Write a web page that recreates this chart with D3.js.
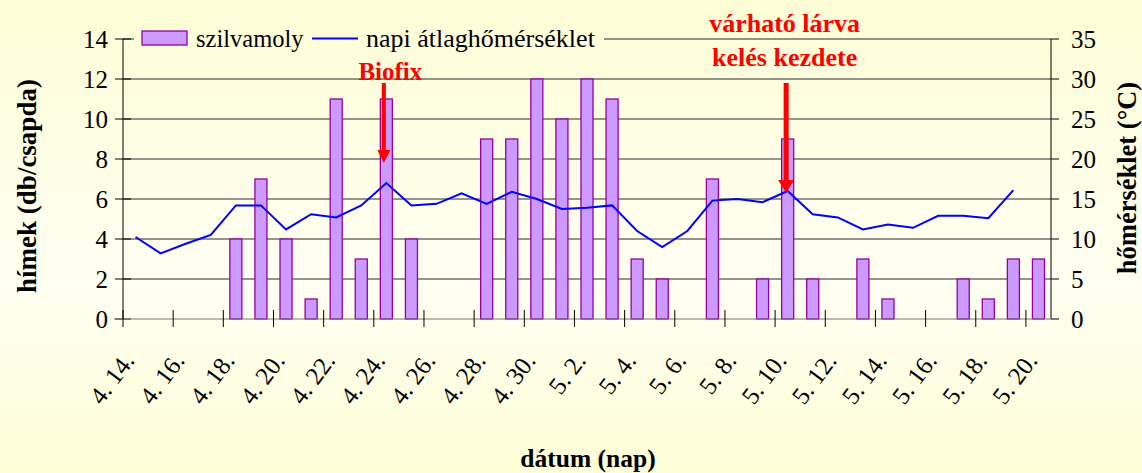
<!DOCTYPE html>
<html>
<head>
<meta charset="utf-8">
<script src="https://cdn.jsdelivr.net/npm/d3@7"></script>
<style>
  body { margin: 0; background: #fefedc; }
  svg { display: block; }
</style>
</head>
<body>
<div id="chart"></div>
<script>
(function() {
  const W = 1142, H = 473;
  const margin = { top: 39, right: 91, bottom: 154, left: 123 };
  const serif = "'Liberation Serif', 'DejaVu Serif', 'Times New Roman', serif";

  // data
  const dates = ["4. 14.", "4. 15.", "4. 16.", "4. 17.", "4. 18.", "4. 19.", "4. 20.", "4. 21.", "4. 22.",
    "4. 23.", "4. 24.", "4. 25.", "4. 26.", "4. 27.", "4. 28.", "4. 29.", "4. 30.", "5. 1.", "5. 2.",
    "5. 3.", "5. 4.", "5. 5.", "5. 6.", "5. 7.", "5. 8.", "5. 9.", "5. 10.", "5. 11.", "5. 12.",
    "5. 13.", "5. 14.", "5. 15.", "5. 16.", "5. 17.", "5. 18.", "5. 19.", "5. 20."];
  const moths = [0, 0, 0, 0, 4, 7, 4, 1, 11, 3, 11, 4, 0, 0, 9, 9, 12, 10, 12, 11, 3, 2, 0, 7, 0, 2, 9, 2, 0,
    3, 1, 0, 0, 2, 1, 3, 3];
  const temps = [10.25, 8.2, 9.4, 10.5, 14.2, 14.2, 11.2, 13.1, 12.7, 14.2, 17.0, 14.2, 14.4, 15.7, 14.4, 15.9,
    15.0, 13.75, 13.9, 14.2, 11.0, 9.0, 11.0, 14.8, 15.0, 14.6, 16.0, 13.1, 12.7, 11.2, 11.8, 11.4, 12.9,
    12.9, 12.6, 16.1, null];
  const leftTicks = [0, 2, 4, 6, 8, 10, 12, 14];
  const rightTicks = [0, 5, 10, 15, 20, 25, 30, 35];
  const labelDates = dates.filter((d, i) => i % 2 === 0);

  const x = d3.scaleBand().domain(dates).range([margin.left, W - margin.right]);
  const yL = d3.scaleLinear().domain([0, 14]).range([H - margin.bottom, margin.top]);
  const yR = d3.scaleLinear().domain([0, 35]).range([H - margin.bottom, margin.top]);

  const svg = d3.select("#chart").append("svg")
    .attr("width", W)
    .attr("height", H)
    .attr("font-family", serif)
    .style("font-family", serif);

  const defs = svg.append("defs");
  const grad = defs.append("linearGradient")
    .attr("id", "bg")
    .attr("gradientUnits", "userSpaceOnUse")
    .attr("x1", 0).attr("y1", 0).attr("x2", 0).attr("y2", H);
  grad.append("stop").attr("offset", "0%").attr("stop-color", "#fdfdd6");
  grad.append("stop").attr("offset", "60%").attr("stop-color", "#fffff2");
  grad.append("stop").attr("offset", "100%").attr("stop-color", "#fdfdd6");

  svg.append("rect")
    .attr("width", W).attr("height", H)
    .attr("fill", "url(#bg)");

  // grid
  svg.append("g")
    .selectAll("line")
    .data(leftTicks.slice(1))
    .enter().append("line")
      .attr("x1", margin.left)
      .attr("x2", W - margin.right)
      .attr("y1", d => yL(d))
      .attr("y2", d => yL(d))
      .attr("stroke", "#2a2a2a")
      .attr("stroke-width", 1);

  // bars
  const bw = x.bandwidth() * 0.48;
  svg.append("g")
    .selectAll("rect")
    .data(dates.map((d, i) => ({ date: d, v: moths[i] })).filter(d => d.v > 0))
    .enter().append("rect")
      .attr("x", d => x(d.date) + (x.bandwidth() - bw) / 2)
      .attr("y", d => yL(d.v))
      .attr("width", bw)
      .attr("height", d => yL(0) - yL(d.v))
      .attr("fill", "#cc99ff")
      .attr("stroke", "#990099")
      .attr("stroke-width", 1.3);

  // temperature line
  const line = d3.line()
    .defined(d => d.t != null)
    .x(d => x(d.date) + x.bandwidth() / 2)
    .y(d => yR(d.t));
  svg.append("path")
    .datum(dates.map((d, i) => ({ date: d, t: temps[i] })))
    .attr("fill", "none")
    .attr("stroke", "#0000ff")
    .attr("stroke-width", 2)
    .attr("d", line);

  // axes
  const axL = svg.append("g");
  axL.append("line")
    .attr("x1", margin.left).attr("x2", margin.left)
    .attr("y1", yL(0)).attr("y2", yL(14))
    .attr("stroke", "#000");
  axL.selectAll(".tk")
    .data(leftTicks)
    .enter().append("line")
      .attr("x1", margin.left - 8).attr("x2", margin.left + 8)
      .attr("y1", d => yL(d)).attr("y2", d => yL(d))
      .attr("stroke", "#000");
  axL.selectAll("text")
    .data(leftTicks)
    .enter().append("text")
      .attr("x", margin.left - 15)
      .attr("y", d => yL(d))
      .attr("dy", "0.35em")
      .attr("text-anchor", "end")
      .style("font-size", "25px")
      .text(d => d);

  const rx = W - margin.right;
  const axR = svg.append("g");
  axR.append("line")
    .attr("x1", rx).attr("x2", rx)
    .attr("y1", yR(0)).attr("y2", yR(35))
    .attr("stroke", "#000");
  axR.selectAll(".tk")
    .data(rightTicks)
    .enter().append("line")
      .attr("x1", rx).attr("x2", rx + 8)
      .attr("y1", d => yR(d)).attr("y2", d => yR(d))
      .attr("stroke", "#000");
  axR.selectAll("text")
    .data(rightTicks)
    .enter().append("text")
      .attr("x", rx + 20)
      .attr("y", d => yR(d))
      .attr("dy", "0.35em")
      .style("font-size", "25px")
      .text(d => d);

  const y0 = yL(0);
  const axB = svg.append("g");
  axB.append("line")
    .attr("x1", margin.left - 9).attr("x2", rx + 8)
    .attr("y1", y0).attr("y2", y0)
    .attr("stroke", "#777");
  axB.selectAll(".tk")
    .data(labelDates)
    .enter().append("line")
      .attr("x1", d => x(d)).attr("x2", d => x(d))
      .attr("y1", y0 - 9).attr("y2", y0 + 8)
      .attr("stroke", "#000");
  axB.selectAll("text")
    .data(labelDates)
    .enter().append("text")
      .attr("transform", d => `translate(${x(d) + x.bandwidth() / 2}, ${y0 + 42}) rotate(-53)`)
      .attr("text-anchor", "end")
      .style("font-size", "25px")
      .text(d => d);

  // axis titles
  svg.append("text")
    .attr("transform", `translate(36, ${(yL(0) + yL(14)) / 2 + 7}) rotate(-90)`)
    .attr("text-anchor", "middle")
    .style("font-size", "27px")
    .style("font-weight", "bold")
    .text("hímek (db/csapda)");

  svg.append("text")
    .attr("transform", `translate(1136, ${(yR(0) + yR(35)) / 2 - 1}) rotate(-90)`)
    .attr("text-anchor", "middle")
    .style("font-size", "26.5px")
    .style("font-weight", "bold")
    .text("hőmérséklet (°C)");

  svg.append("text")
    .attr("x", 588)
    .attr("y", 467)
    .attr("text-anchor", "middle")
    .style("font-size", "25.5px")
    .style("font-weight", "bold")
    .text("dátum (nap)");

  // legend
  const legend = svg.append("g");
  legend.append("rect")
    .attr("x", 134).attr("y", 24).attr("width", 470).attr("height", 30)
    .attr("fill", "url(#bg)");
  legend.append("rect")
    .attr("x", 142).attr("y", 31).attr("width", 45).attr("height", 14)
    .attr("fill", "#cc99ff")
    .attr("stroke", "#990099")
    .attr("stroke-width", 1.3);
  legend.append("text")
    .attr("x", 196).attr("y", 47)
    .style("font-size", "24.5px")
    .text("szilvamoly");
  legend.append("line")
    .attr("x1", 312).attr("x2", 358)
    .attr("y1", 38.5).attr("y2", 38.5)
    .attr("stroke", "#0000ff")
    .attr("stroke-width", 2);
  legend.append("text")
    .attr("x", 366).attr("y", 47)
    .style("font-size", "26px")
    .text("napi átlaghőmérséklet");

  // annotations
  const red = "#ff0000";
  function arrow(cx, top, tip, shaft, head, headH) {
    svg.append("path")
      .attr("d", `M${cx - shaft / 2},${top} L${cx + shaft / 2},${top} L${cx + shaft / 2},${tip - headH}
        L${cx + head / 2},${tip - headH} L${cx},${tip} L${cx - head / 2},${tip - headH}
        L${cx - shaft / 2},${tip - headH} Z`)
      .attr("fill", red);
  }

  const bx = x("4. 24.") + x.bandwidth() / 2;
  svg.append("text")
    .attr("x", bx + 4).attr("y", 80)
    .attr("text-anchor", "middle")
    .style("font-size", "25px")
    .style("font-weight", "bold")
    .style("fill", red)
    .text("Biofix");
  arrow(bx - 2.5, 83, 163, 4, 13, 13);

  const kx = x("5. 10.") + x.bandwidth() / 2;
  svg.append("text")
    .attr("x", kx - 3).attr("y", 32)
    .attr("text-anchor", "middle")
    .style("font-size", "26px")
    .style("font-weight", "bold")
    .style("fill", red)
    .text("várható lárva");
  svg.append("text")
    .attr("x", kx - 3).attr("y", 66)
    .attr("text-anchor", "middle")
    .style("font-size", "26px")
    .style("font-weight", "bold")
    .style("fill", red)
    .text("kelés kezdete");
  arrow(kx - 1.5, 83, 193, 5, 16, 13);
})();
</script>
</body>
</html>
